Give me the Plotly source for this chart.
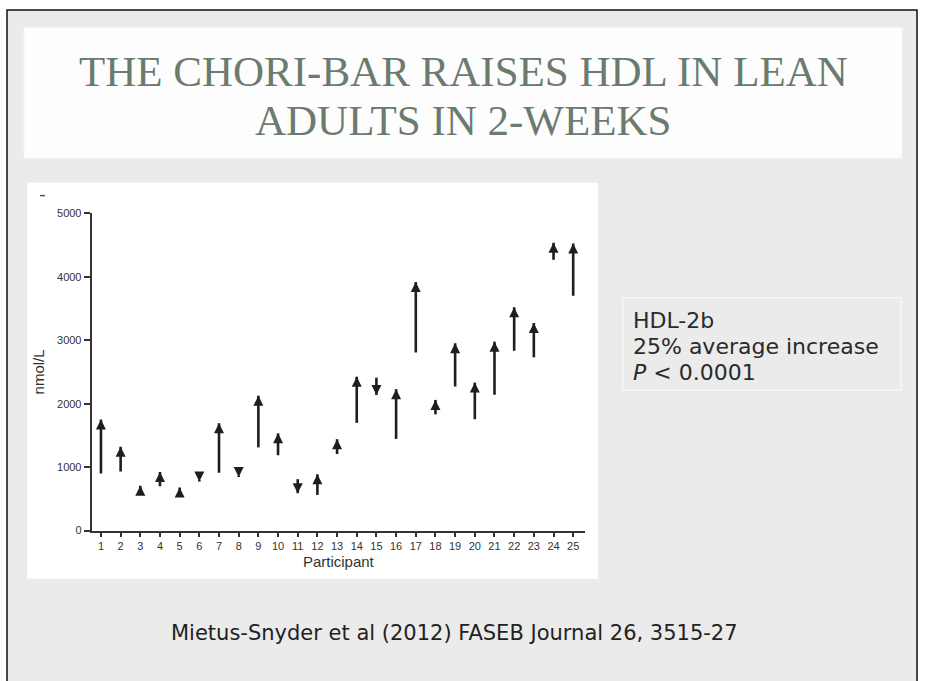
import plotly.graph_objects as go

# ---- data ----
participants = list(range(1, 26))
hdl_before = [900, 930, 560, 700, 640, 800, 913, 870, 1311, 1187,
              810, 562, 1207, 1698, 2410, 1445, 2807, 1832, 2270, 1754,
              2141, 2833, 2730, 4267, 3700]
hdl_after = [1750, 1320, 707, 924, 680, 775, 1690, 846, 2126, 1532,
             590, 887, 1440, 2425, 2136, 2229, 3916, 2059, 2951, 2332,
             2977, 3519, 3271, 4536, 4525]
y_ticks = [0, 1000, 2000, 3000, 4000, 5000]

title_lines = ["THE CHORI-BAR RAISES HDL IN LEAN", "ADULTS IN 2-WEEKS"]
box_lines = ["HDL-2b", "25% average increase", "<i>P</i> &lt; 0.0001"]
citation = "Mietus-Snyder et al (2012) FASEB Journal 26, 3515-27"

W, H = 926, 681
INK = "#1e1e1e"


def px(x):
    return x / W


def py(y):
    return 1 - y / H


fig = go.Figure()

# arrow shafts: one segment per participant, from before to after
shaft_x, shaft_y = [], []
for p, b, a in zip(participants, hdl_before, hdl_after):
    shaft_x += [p, p, None]
    shaft_y += [b, a, None]
fig.add_trace(go.Scatter(x=shaft_x, y=shaft_y, mode="lines",
                         line=dict(color=INK, width=2.6), hoverinfo="skip", showlegend=False))

# arrow heads at the "after" value, pointing in the direction of change
symbols = ["arrow-up" if a >= b else "arrow-down" for b, a in zip(hdl_before, hdl_after)]
fig.add_trace(go.Scatter(x=participants, y=hdl_after, mode="markers",
                         marker=dict(symbol=symbols, size=10, color=INK, line=dict(width=0)),
                         hoverinfo="skip", showlegend=False))

shapes = [
    dict(type="rect", xref="paper", yref="paper", x0=px(7), x1=px(917), y0=py(690), y1=py(4),
         fillcolor="#ebebeb", line=dict(color="#111111", width=1.5), layer="below"),
    dict(type="rect", xref="paper", yref="paper", x0=px(24), x1=px(902), y0=py(155), y1=py(22),
         fillcolor="#fdfdfd", line=dict(color="#f4f4f4", width=1), layer="below"),
    dict(type="rect", xref="paper", yref="paper", x0=px(27), x1=px(598), y0=py(583), y1=py(180),
         fillcolor="#ffffff", line=dict(width=0), layer="below"),
    dict(type="rect", xref="paper", yref="paper", x0=px(623), x1=px(901), y0=py(391), y1=py(297),
         fillcolor="rgba(0,0,0,0)", line=dict(color="#fafafa", width=1.2), layer="below"),
    dict(type="line", xref="paper", yref="paper", x0=px(40), x1=px(45), y0=py(193), y1=py(193),
         line=dict(color="#555555", width=1.5), layer="below"),
]

annotations = []
title_y = [67, 117]
for t, yy in zip(title_lines, title_y):
    annotations.append(dict(x=px(463), y=py(yy), xref="paper", yref="paper", text=t,
                            showarrow=False, xanchor="center", yanchor="middle",
                            font=dict(family="Liberation Serif", size=43, color="#6b7b6e")))

box_y = [320, 347, 373]
for t, yy in zip(box_lines, box_y):
    annotations.append(dict(x=px(631), y=py(yy), xref="paper", yref="paper", text=t,
                            showarrow=False, xanchor="left", yanchor="middle",
                            font=dict(family="DejaVu Sans", size=22, color="#2a2a2a")))

annotations.append(dict(x=px(454), y=py(638), xref="paper", yref="paper", text=citation,
                        showarrow=False, xanchor="center", yanchor="middle",
                        font=dict(family="DejaVu Sans", size=21, color="#222222")))

fig.update_layout(
    width=W, height=H,
    margin=dict(l=0, r=0, t=0, b=0),
    paper_bgcolor="#ffffff",
    plot_bgcolor="rgba(0,0,0,0)",
    showlegend=False,
    shapes=shapes,
    annotations=annotations,
    xaxis=dict(
        domain=[px(91.7), px(585)], range=[0.53, 25.6],
        tickmode="array", tickvals=participants, ticktext=[str(p) for p in participants],
        showgrid=False, zeroline=False, showline=True, linecolor="#333333", linewidth=2,
        ticks="outside", ticklen=4, tickwidth=1.5, tickcolor="#333333",
        tickfont=dict(family="Liberation Sans", size=11, color="#333333"),
        title=dict(text="Participant", font=dict(family="Liberation Sans", size=15, color="#333333"),
                   standoff=6),
        fixedrange=True,
    ),
    yaxis=dict(
        domain=[py(534), py(211)], range=[0, 5000],
        tickmode="array", tickvals=y_ticks, ticktext=[str(v) for v in y_ticks],
        showgrid=False, zeroline=False, showline=True, linecolor="#333333", linewidth=2,
        ticks="outside", ticklen=6, tickwidth=1.5, tickcolor="#333333",
        tickfont=dict(family="Liberation Sans", size=11, color="#333333"),
        title=dict(text="nmol/L", font=dict(family="Liberation Sans", size=15, color="#333333"),
                   standoff=9),
        fixedrange=True,
    ),
)

fig.write_html("out.html", config={"displayModeBar": False},
               post_script="document.body.style.margin='0px';")
